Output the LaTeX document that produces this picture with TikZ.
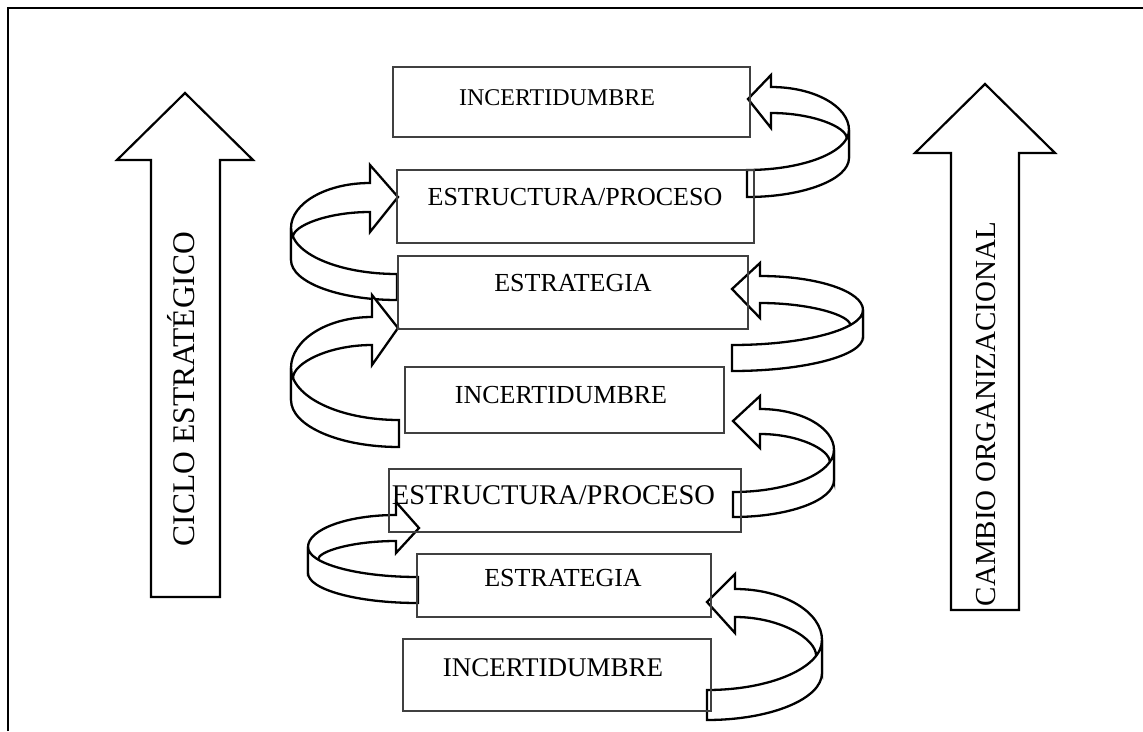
\documentclass[tikz,border=0pt]{standalone}
\usepackage{fontspec}
\setmainfont{Liberation Serif}
\usetikzlibrary{calc}
\tikzset{
 ca/.style={draw=black, line width=2.3pt, fill=white, line join=miter},
 bx/.style={draw=black!75, line width=1.2pt, inner sep=0pt, outer sep=0pt},
 bigarrow/.style={draw=black, line width=2.2pt, fill=white},
 lbl/.style={font=\fontsize{26}{30}\selectfont, inner sep=0pt, anchor=base},
 vlbl/.style={font=\fontsize{29}{34}\selectfont, inner sep=0pt, rotate=90},
 frame/.style={draw=black, line width=2.6pt},
}
\newcommand\CurvA[9]{\def\catx{#1}\def\caty{#2}\def\cahx{#3}\def\cabu{#4}\def\cabl{#5}\def\cauy{#6}\def\caly{#7}\def\caR{#8}\def\caoya{#9}\CurvB}
\newcommand\CurvB[5]{\def\caoyb{#1}\def\caex{#2}\def\caet{#3}\def\caeb{#4}\def\capos{#5}\CurvDraw}
\newcommand\CurvDraw{%
 \path (\caex,\caet) .. controls ({\caex+0.5523*(\caR-\caex)},\caet) and (\caR,{\caoya+0.5523*(\caet-\caoya)}) .. (\caR,\caoya) coordinate[pos=\capos] (cusp);
 \coordinate (caL) at (\cahx,\caly);
 \coordinate (caK) at (cusp |- caL);
 \draw[ca] (\catx,\caty) -- (\cahx,\cabu) -- (\cahx,\cauy) .. controls ({\cahx+0.5523*(\caR-\cahx)},\cauy) and (\caR,{\caoya-0.5523*(\caoya-\cauy)}) .. (\caR,\caoya) -- (\caR,\caoyb) -- (cusp) .. controls ($(cusp)!0.45!(caK)$) and ($(caL)!0.55!(caK)$) .. (caL) -- (\cahx,\cabl) -- cycle;
 \draw[ca] (\caex,\caet) .. controls ({\caex+0.5523*(\caR-\caex)},\caet) and (\caR,{\caoya+0.5523*(\caet-\caoya)}) .. (\caR,\caoya) -- (\caR,\caoyb) .. controls (\caR,{\caoyb+0.5523*(\caeb-\caoyb)}) and ({\caex+0.5523*(\caR-\caex)},\caeb) .. (\caex,\caeb) -- cycle;
}
\begin{document}
\begin{tikzpicture}[x=1pt,y=-1pt]
\useasboundingbox (0,0) rectangle (1143,731);
\draw[frame] (8,731) -- (8,8) -- (1143,8);
% big arrows
\draw[bigarrow] (185,93) -- (253,160) -- (220,160) -- (220,597) -- (151,597) -- (151,160) -- (117,160) -- cycle;
\draw[bigarrow] (985,84) -- (1055,153) -- (1019,153) -- (1019,610) -- (951,610) -- (951,153) -- (915,153) -- cycle;
\node[vlbl, font=\fontsize{31.5}{36}\selectfont] (lc) at (181,389) {CICLO ESTRATÉGICO};
\node[vlbl] (rc) at (986,414) {CAMBIO ORGANIZACIONAL};
% curved arrows
\CurvA{748}{99}{771}{75}{128}{87}{113}{849}{130}{158}{747}{170}{197}{0.87}
\CurvA{398}{197}{370}{165}{232}{183}{212}{291}{228}{260}{397}{274}{300}{0.88}
\CurvA{732}{289}{760}{263}{318}{276}{303}{863}{310}{337}{732}{345}{371}{0.72}
\CurvA{398}{328}{372}{295}{365}{317}{345}{291}{368}{400}{399}{420}{447}{0.88}
\CurvA{733}{421}{760}{396}{448}{409}{434}{834}{450}{480}{733}{492}{517}{0.82}
\CurvA{419}{528}{396}{502}{553}{515}{541}{308}{547}{573}{418}{577}{603}{0.73}
\CurvA{707}{602}{735}{574}{633}{589}{617}{822}{640}{673}{707}{690}{720}{0.8}
% boxes
\node[bx, minimum width=357pt, minimum height=70pt] (b1) at (571.5,102) {};
\node[bx, minimum width=357pt, minimum height=73pt] (b2) at (575.5,206.5) {};
\node[bx, minimum width=350pt, minimum height=73pt] (b3) at (573,292.5) {};
\node[bx, minimum width=319pt, minimum height=66pt] (b4) at (564.5,400) {};
\node[bx, minimum width=352pt, minimum height=63pt] (b5) at (565,500.5) {};
\node[bx, minimum width=294pt, minimum height=63pt] (b6) at (564,585.5) {};
\node[bx, minimum width=308pt, minimum height=72pt] (b7) at (557,675) {};
% texts
\node[lbl, font=\fontsize{24}{28}\selectfont] (t1) at (557,105) {INCERTIDUMBRE};
\node[lbl] (t2) at (575,205.6) {ESTRUCTURA/PROCESO};
\node[lbl] (t3) at (573,291.6) {ESTRATEGIA};
\node[lbl] (t4) at (561,403.6) {INCERTIDUMBRE};
\node[lbl, font=\fontsize{28.5}{32}\selectfont] (t5) at (553.5,504.5) {ESTRUCTURA/PROCESO};
\node[lbl] (t6) at (563,586.6) {ESTRATEGIA};
\node[lbl, font=\fontsize{27}{31}\selectfont] (t7) at (553,676) {INCERTIDUMBRE};
\end{tikzpicture}
\end{document}
